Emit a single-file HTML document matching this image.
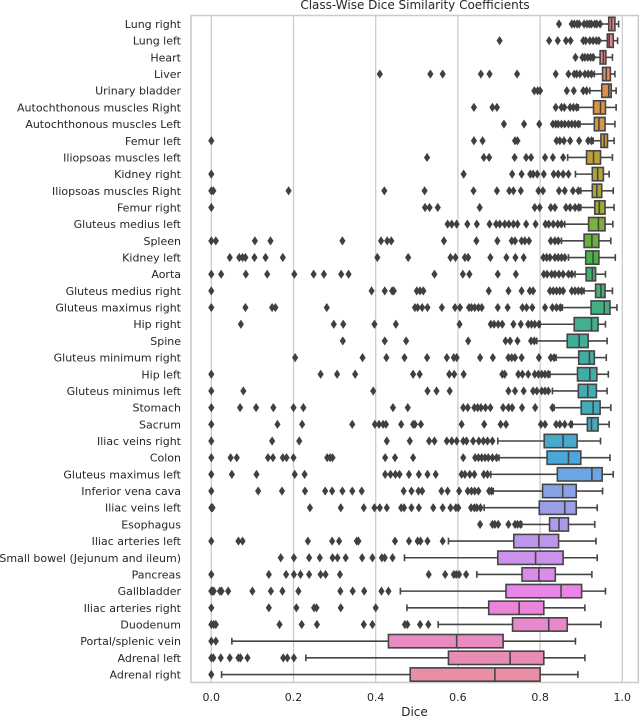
<!DOCTYPE html>
<html>
<head>
<meta charset="utf-8">
<title>Class-Wise Dice Similarity Coefficients</title>
<style>
html,body{margin:0;padding:0;background:#fff;width:640px;height:716px;overflow:hidden}
svg{display:block;font-family:"DejaVu Sans","Liberation Sans",sans-serif;filter:blur(0.35px)}
</style>
</head>
<body>
<svg id="chart" width="640" height="716" viewBox="0 0 640 716" xmlns="http://www.w3.org/2000/svg">
  <text x="415" y="9" text-anchor="middle" font-size="12" fill="#262626">Class-Wise Dice Similarity Coefficients</text>
  <rect x="191" y="15.5" width="447.3" height="667" fill="#fff" stroke="#cccccc" stroke-width="1.6"/>
  <g id="grid"></g>
  <g id="marks"></g>
  <g id="yticks"></g>
  <g id="xticks"></g>
  <text x="414.5" y="716" text-anchor="middle" font-size="12" fill="#262626">Dice</text>
</svg>
<script>
const categories = ["Lung right","Lung left","Heart","Liver","Urinary bladder","Autochthonous muscles Right","Autochthonous muscles Left","Femur left","Iliopsoas muscles left","Kidney right","Iliopsoas muscles Right","Femur right","Gluteus medius left","Spleen","Kidney left","Aorta","Gluteus medius right","Gluteus maximus right","Hip right","Spine","Gluteus minimum right","Hip left","Gluteus minimus left","Stomach","Sacrum","Iliac veins right","Colon","Gluteus maximus left","Inferior vena cava","Iliac veins left","Esophagus","Iliac arteries left","Small bowel (Jejunum and ileum)","Pancreas","Gallbladder","Iliac arteries right","Duodenum","Portal/splenic vein","Adrenal left","Adrenal right"];
const xTickValues = [0, 0.2, 0.4, 0.6, 0.8, 1.0];
const xTickLabels = ["0.0","0.2","0.4","0.6","0.8","1.0"];
const q1 = [.967,.9635,.946,.952,.950,.930,.932,.948,.913,.927,.927,.933,.918,.907,.911,.912,.935,.924,.883,.866,.894,.891,.893,.900,.915,.810,.817,.842,.806,.798,.823,.736,.697,.756,.717,.675,.733,.431,.577,.484];
const medians = [.974,.968,.954,.961,.967,.947,.943,.956,.930,.940,.938,.944,.942,.926,.929,.927,.948,.956,.925,.895,.920,.921,.916,.929,.925,.856,.869,.926,.855,.860,.846,.797,.789,.797,.851,.749,.821,.597,.727,.690];
const q3 = [.982,.978,.960,.971,.973,.959,.958,.964,.947,.954,.950,.958,.958,.943,.943,.935,.958,.970,.941,.917,.932,.938,.937,.946,.941,.890,.899,.951,.888,.888,.869,.845,.856,.837,.901,.809,.866,.710,.809,.800];
const whiskerLow = [.9475,.943,.930,.932,.921,.893,.897,.929,.867,.886,.899,.899,.860,.852,.869,.885,.907,.854,.800,.792,.839,.824,.830,.834,.878,.697,.700,.680,.686,.664,.755,.577,.470,.646,.460,.476,.552,.050,.230,.025];
const whiskerHigh = [.991,.9886,.976,.982,.985,.985,.982,.980,.976,.968,.978,.980,.977,.972,.983,.959,.976,.987,.959,.963,.961,.966,.963,.972,.968,.947,.970,.978,.952,.939,.933,.936,.939,.926,.959,.909,.948,.886,.909,.892];
const outliersLungRight = [.846,.877,.883,.890,.895,.907,.914,.920,.925,.933,.938,.946];
const outliersLungLeft = [.7015,.822,.843,.863,.874,.905,.911,.921,.929,.937,.943];
const outliersHeart = [.886,.903,.909,.916,.923,.929];
const outliersLiver = [.410,.533,.563,.656,.677,.744,.838,.869,.883,.889,.897,.909,.917,.925];
const outliersBladder = [.786,.794,.800,.865,.882,.905,.913];
const outliersAutoRight = [.639,.684,.695,.838,.852,.859,.873,.881,.889];
const outliersAutoLeft = [.712,.761,.798,.831,.838,.844,.852,.860,.869,.877,.885,.893];
const outliersFemurLeft = [0,.639,.660,.739,.745,.840,.848,.858,.873,.895,.917,.925];
const outliersIliopsoasLeft = [.525,.663,.676,.738,.766,.778,.812,.831,.856];
const outliersKidneyRight = [0,.614,.732,.755,.776,.783,.793,.809,.833,.844,.856,.869];
const outliersIliopsoasRight = [0,.005,.188,.421,.519,.638,.695,.725,.735,.753,.796,.807,.846,.860,.880,.893];
const outliersFemurRight = [0,.520,.531,.551,.653,.787,.799,.826,.836,.863,.873,.885,.894];
const outliersMediusLeft = [.575,.585,.597,.623,.646,.677,.693,.702,.714,.724,.735,.745,.766,.789,.813,.821,.832,.843,.852];
const outliersSpleen = [0,.011,.106,.144,.319,.413,.428,.438,.566,.645,.696,.731,.739,.755,.763,.773,.826,.836,.844];
const outliersKidneyLeft = [.045,.068,.076,.083,.105,.132,.174,.404,.479,.582,.594,.617,.625,.679,.718,.740,.760,.808,.816,.824,.836,.844,.852,.860];
const outliersAorta = [0,.024,.084,.136,.202,.249,.274,.316,.334,.543,.612,.628,.697,.741,.809,.817,.828,.836,.846,.856,.869,.877];
const outliersMediusRight = [0,.390,.422,.440,.444,.500,.508,.516,.675,.723,.755,.775,.783,.824,.832,.840,.848,.856,.877,.885,.893,.901];
const outliersMaximusRight = [0,.083,.148,.156,.281,.4955,.502,.513,.526,.561,.593,.605,.627,.633,.641,.650,.658,.697,.721,.757,.767,.781,.812,.830,.840,.849];
const outliersHipRight = [.072,.298,.321,.397,.449,.604,.680,.688,.698,.708,.735,.753,.771,.779,.787,.797];
const outliersSpine = [.320,.422,.474,.625,.716,.727,.745,.778,.786];
const outliersMinimumRight = [.204,.368,.426,.470,.525,.573,.590,.597,.654,.685,.723,.731,.739,.755,.797,.826,.834];
const outliersHipLeft = [0,.266,.306,.350,.491,.507,.579,.591,.614,.708,.714,.747,.757,.771,.787,.796,.804,.812,.820];
const outliersMinimusLeft = [0,.078,.394,.526,.548,.580,.723,.739,.760,.783,.792,.804,.812,.820];
const outliersStomach = [0,.070,.109,.151,.200,.224,.442,.478,.613,.624,.640,.648,.656,.667,.679,.710,.723,.732,.756,.788,.830];
const outliersSacrum = [0,.161,.221,.343,.398,.408,.418,.425,.462,.491,.4955,.510,.609,.664,.704,.717,.802,.812,.839,.848,.860,.875];
const outliersVeinsRight = [0,.148,.214,.427,.483,.530,.543,.573,.585,.597,.613,.621,.637,.651,.662,.672,.684];
const outliersColon = [0,.047,.062,.138,.150,.174,.183,.200,.282,.289,.295,.423,.447,.491,.613,.642,.650,.658,.666,.674,.684,.694];
const outliersMaximusLeft = [0,.050,.110,.203,.227,.423,.436,.448,.458,.481,.505,.526,.546,.609,.617,.629,.640,.663,.672];
const outliersVenaCava = [0,.114,.172,.228,.277,.294,.319,.343,.366,.468,.487,.504,.513,.560,.575,.603,.624,.633,.641,.650,.676,.682];
const outliersVeinsLeft = [0,.003,.240,.315,.371,.397,.410,.427,.462,.469,.487,.505,.540,.563,.582,.595,.601,.632,.640,.646,.655];
const outliersEsophagus = [.654,.684,.690,.698,.723,.739,.745,.752];
const outliersArteriesLeft = [0,.066,.076,.235,.294,.311,.354,.358,.447,.481,.502,.509,.526,.563];
const outliersSmallBowel = [.169,.201,.238,.264,.295,.307,.327,.367,.392,.415,.422,.441];
const outliersPancreas = [0,.140,.182,.201,.217,.238,.266,.278,.313,.529,.569,.590,.596,.603,.620];
const outliersGallbladder = [0,.003,.006,.021,.025,.041,.100,.145,.173,.212,.314,.344,.372,.414,.431];
const outliersArteriesRight = [0,.140,.207,.250,.256,.315,.400];
const outliersDuodenum = [0,.006,.011,.166,.220,.257,.371,.392,.471,.477,.508,.528];
const outliersPortal = [0,.011];
const outliersAdrenalLeft = [0,.005,.023,.045,.066,.071,.088,.175,.185,.201];
const outliersAdrenalRight = [0];
const outliers = [outliersLungRight,outliersLungLeft,outliersHeart,outliersLiver,outliersBladder,outliersAutoRight,outliersAutoLeft,outliersFemurLeft,outliersIliopsoasLeft,outliersKidneyRight,outliersIliopsoasRight,outliersFemurRight,outliersMediusLeft,outliersSpleen,outliersKidneyLeft,outliersAorta,outliersMediusRight,outliersMaximusRight,outliersHipRight,outliersSpine,outliersMinimumRight,outliersHipLeft,outliersMinimusLeft,outliersStomach,outliersSacrum,outliersVeinsRight,outliersColon,outliersMaximusLeft,outliersVenaCava,outliersVeinsLeft,outliersEsophagus,outliersArteriesLeft,outliersSmallBowel,outliersPancreas,outliersGallbladder,outliersArteriesRight,outliersDuodenum,outliersPortal,outliersAdrenalLeft,outliersAdrenalRight];
const palette = ["#e98390","#e88487","#e78580","#e58a66","#df8f4e","#dc9445","#d89840","#cc9e38","#bca236","#b2a537","#a8a738","#9ea93a","#7fb03c","#68b13e","#45b349","#44b266","#43b175","#42b083","#42af8e","#42ae98","#42ada0","#42aca8","#43acb0","#44abb8","#45aac0","#47a9cc","#4aa7dc","#6ba5e2","#88a2e6","#9a9fe8","#ad9be9","#bd96ea","#cc91ea","#db8ce8","#e985e6","#ea85d8","#e988cc","#e98bc0","#e98cb4","#e98ea6"];

const SVG_NS = "http://www.w3.org/2000/svg";
const LINE = "#454545";
const LW = 1.6;
function xScale(v) { return 211.3 + v * 411; }
function yScale(i) { return 24 + i * 16.68; }
function slug(s) { return s.toLowerCase().replace(/[^a-z0-9]+/g, "-").replace(/^-|-$/g, ""); }
function make(tag, attrs, parent) {
  const el = document.createElementNS(SVG_NS, tag);
  for (const k in attrs) el.setAttribute(k, attrs[k]);
  parent.appendChild(el);
  return el;
}
const grid = document.getElementById("grid");
const xticks = document.getElementById("xticks");
const yticks = document.getElementById("yticks");
const marks = document.getElementById("marks");

xTickValues.forEach((t, i) => {
  const gl = make("line", {x1: xScale(t), x2: xScale(t), y1: 15.5, y2: 682.5, stroke: "#cccccc", "stroke-width": 1.3}, grid);
  
  
  const lb = make("text", {x: xScale(t), y: 701, "text-anchor": "middle", "font-size": 11, fill: "#262626"}, xticks);
  
  
  lb.textContent = xTickLabels[i];
});

categories.forEach((name, i) => {
  const cy = yScale(i);
  const lb = make("text", {x: 181, y: cy + 4, "text-anchor": "end", "font-size": 11, fill: "#262626"}, yticks);
  
  
  lb.textContent = name;

  const g = make("g", {}, marks);
  
  

  const wl = make("line", {x1: xScale(whiskerLow[i]), x2: xScale(q1[i]), y1: cy, y2: cy, stroke: LINE, "stroke-width": LW}, g);
  
  
  const wh = make("line", {x1: xScale(q3[i]), x2: xScale(whiskerHigh[i]), y1: cy, y2: cy, stroke: LINE, "stroke-width": LW}, g);
  
  
  const cl = make("line", {x1: xScale(whiskerLow[i]), x2: xScale(whiskerLow[i]), y1: cy - 3.4, y2: cy + 3.4, stroke: LINE, "stroke-width": LW}, g);
  
  
  const ch = make("line", {x1: xScale(whiskerHigh[i]), x2: xScale(whiskerHigh[i]), y1: cy - 3.4, y2: cy + 3.4, stroke: LINE, "stroke-width": LW}, g);
  
  
  const box = make("rect", {x: xScale(q1[i]), y: cy - 6.67, width: xScale(q3[i]) - xScale(q1[i]), height: 13.34, fill: palette[i], stroke: LINE, "stroke-width": LW}, g);
  
  
  const md = make("line", {x1: xScale(medians[i]), x2: xScale(medians[i]), y1: cy - 6.67, y2: cy + 6.67, stroke: LINE, "stroke-width": LW}, g);
  
  

  outliers[i].forEach(v => {
    const px = xScale(v);
    const pts = [[px, cy - 4.6], [px + 3.1, cy], [px, cy + 4.6], [px - 3.1, cy]].map(p => p.join(",")).join(" ");
    const d = make("polygon", {points: pts, fill: "#404040"}, g);
    
    
  });
});
</script>
</body>
</html>
